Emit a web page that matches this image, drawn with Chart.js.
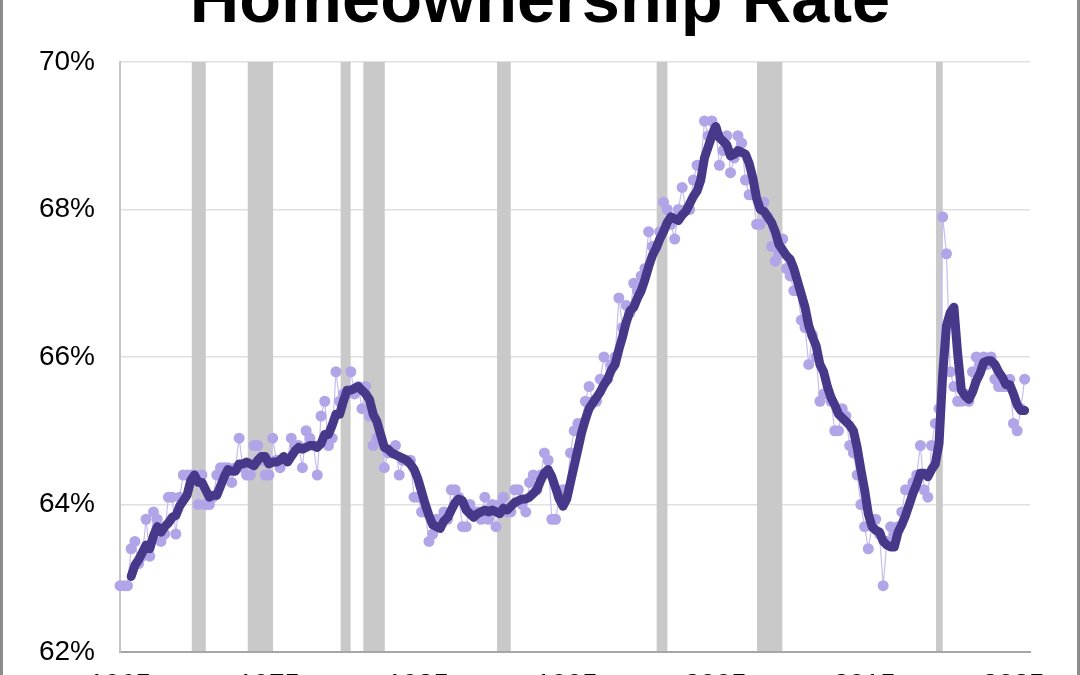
<!DOCTYPE html>
<html>
<head>
<meta charset="utf-8">
<title>Homeownership Rate</title>
<script src="https://cdn.jsdelivr.net/npm/chart.js@4.4.1/dist/chart.umd.min.js"></script>
<style>
  html, body { margin: 0; padding: 0; background: #fff; overflow: hidden; }
  body { width: 1080px; height: 675px; position: relative; }
  #title {
    position: absolute; left: 0; top: -35px; width: 1080px; margin: 0;
    text-align: center; color: #000;
    font: bold 68.5px 'Liberation Sans', Arial, sans-serif; line-height: 68px;
  }
  #wrap { position: absolute; left: 0; top: 0; width: 1080px; height: 720px; }
  #frame {
    position: absolute; left: 0; top: -20px; width: 1080px; height: 740px;
    box-sizing: border-box; border: 3px solid #8c8c8c; pointer-events: none;
  }
</style>
</head>
<body>
<div id="wrap"><canvas id="homeChart"></canvas></div>
<h1 id="title">Homeownership Rate</h1>
<div id="frame"></div>
<script>
// Quarterly homeownership rate (%), 1965 Q1 onwards, one row per year
const startYear = 1965;
const quarterlyRate = [
  62.9, 62.9, 62.9, 63.4,
  63.5, 63.2, 63.3, 63.8,
  63.3, 63.9, 63.8, 63.5,
  63.6, 64.1, 64.1, 63.6,
  64.1, 64.4, 64.4, 64.4,
  64.4, 64.0, 64.4, 64.0,
  64.0, 64.1, 64.4, 64.5,
  64.5, 64.5, 64.3, 64.5,
  64.9, 64.5, 64.4, 64.4,
  64.8, 64.8, 64.6, 64.4,
  64.4, 64.9, 64.6, 64.5,
  64.6, 64.6, 64.9, 64.8,
  64.8, 64.5, 65.0, 64.9,
  64.8, 64.4, 65.2, 65.4,
  64.8, 64.9, 65.8, 65.4,
  65.5, 65.5, 65.8, 65.5,
  65.6, 65.3, 65.6, 65.2,
  64.8, 64.9, 64.9, 64.5,
  64.7, 64.7, 64.8, 64.4,
  64.6, 64.6, 64.6, 64.1,
  64.1, 63.9, 63.9, 63.5,
  63.6, 63.8, 63.8, 63.9,
  63.8, 64.2, 64.2, 64.1,
  63.7, 63.7, 64.0, 63.9,
  63.9, 63.8, 64.1, 63.8,
  64.0, 63.7, 64.0, 64.1,
  63.9, 63.9, 64.2, 64.2,
  64.0, 63.9, 64.3, 64.4,
  64.2, 64.4, 64.7, 64.6,
  63.8, 63.8, 64.1, 64.2,
  64.2, 64.7, 65.0, 65.1,
  65.1, 65.4, 65.6, 65.4,
  65.4, 65.7, 66.0, 65.7,
  65.9, 66.0, 66.8, 66.4,
  66.7, 66.6, 67.0, 66.9,
  67.1, 67.2, 67.7, 67.5,
  67.5, 67.7, 68.1, 68.0,
  67.8, 67.6, 68.0, 68.3,
  68.0, 68.0, 68.4, 68.6,
  68.6, 69.2, 69.0, 69.2,
  69.1, 68.6, 68.8, 69.0,
  68.5, 68.7, 69.0, 68.9,
  68.4, 68.2, 68.2, 67.8,
  67.8, 68.1, 67.9, 67.5,
  67.3, 67.4, 67.6, 67.2,
  67.1, 66.9, 66.9, 66.5,
  66.4, 65.9, 66.3, 66.0,
  65.4, 65.5, 65.5, 65.4,
  65.0, 65.0, 65.3, 65.2,
  64.8, 64.7, 64.4, 64.0,
  63.7, 63.4, 63.7, 63.8,
  63.6, 62.9, 63.5, 63.7,
  63.6, 63.7, 63.9, 64.2,
  64.2, 64.3, 64.4, 64.8,
  64.2, 64.1, 64.8, 65.1,
  65.3, 67.9, 67.4, 65.8,
  65.6, 65.4, 65.4, 65.5,
  65.4, 65.8, 66.0, 65.9,
  66.0, 65.9, 66.0, 65.7,
  65.6, 65.6, 65.6, 65.7,
  65.1, 65.0, 65.3, 65.7
];

// Four-quarter average, starts at 1965 Q4
const smoothStart = 3;
const fourQuarterAvg = [
  63.025,
  63.175, 63.25, 63.35, 63.45,
  63.4, 63.575, 63.7, 63.625,
  63.7, 63.75, 63.825, 63.85,
  63.975, 64.05, 64.125, 64.325,
  64.4, 64.3, 64.3, 64.2,
  64.1, 64.125, 64.125, 64.25,
  64.375, 64.475, 64.45, 64.45,
  64.55, 64.55, 64.575, 64.55,
  64.525, 64.6, 64.65, 64.65,
  64.55, 64.575, 64.575, 64.6,
  64.65, 64.575, 64.65, 64.725,
  64.775, 64.75, 64.775, 64.8,
  64.8, 64.775, 64.825, 64.95,
  64.95, 65.075, 65.225, 65.225,
  65.4, 65.55, 65.55, 65.575,
  65.6, 65.55, 65.5, 65.425,
  65.225, 65.125, 64.95, 64.775,
  64.75, 64.7, 64.675, 64.65,
  64.625, 64.6, 64.55, 64.475,
  64.35, 64.175, 64.0, 63.85,
  63.725, 63.7, 63.675, 63.775,
  63.825, 63.925, 64.025, 64.075,
  64.05, 63.925, 63.875, 63.825,
  63.875, 63.9, 63.925, 63.9,
  63.925, 63.9, 63.875, 63.95,
  63.925, 63.975, 64.025, 64.05,
  64.075, 64.075, 64.1, 64.15,
  64.2, 64.325, 64.425, 64.475,
  64.375, 64.225, 64.075, 63.975,
  64.075, 64.3, 64.525, 64.75,
  64.975, 65.15, 65.3, 65.375,
  65.45, 65.525, 65.625, 65.7,
  65.825, 65.9, 66.1, 66.275,
  66.475, 66.625, 66.675, 66.8,
  66.9, 67.05, 67.225, 67.375,
  67.475, 67.6, 67.7, 67.825,
  67.9, 67.875, 67.85, 67.925,
  67.975, 68.075, 68.175, 68.25,
  68.4, 68.7, 68.85, 69.0,
  69.125, 68.975, 68.925, 68.875,
  68.725, 68.75, 68.8, 68.775,
  68.75, 68.625, 68.425, 68.15,
  68.0, 67.975, 67.9, 67.825,
  67.7, 67.525, 67.45, 67.375,
  67.325, 67.2, 67.025, 66.85,
  66.675, 66.425, 66.275, 66.15,
  65.9, 65.8, 65.6, 65.45,
  65.35, 65.225, 65.175, 65.125,
  65.075, 65.0, 64.775, 64.475,
  64.2, 63.875, 63.7, 63.65,
  63.625, 63.5, 63.45, 63.425,
  63.425, 63.625, 63.725, 63.85,
  64.0, 64.15, 64.275, 64.425,
  64.425, 64.375, 64.475, 64.55,
  64.825, 65.775, 66.425, 66.6,
  66.675, 66.05, 65.55, 65.475,
  65.425, 65.525, 65.675, 65.775,
  65.925, 65.95, 65.95, 65.9,
  65.8, 65.725, 65.625, 65.625,
  65.5, 65.35, 65.275, 65.275
];

const yearTicks = [1965, 1975, 1985, 1995, 2005, 2015, 2025];
const rateTicks = [62, 64, 66, 68, 70];

// Recession periods, in fractional years
const recessions = [
  [1969.82, 1970.76],
  [1973.58, 1975.28],
  [1979.82, 1980.49],
  [1981.34, 1982.78],
  [1990.32, 1991.24],
  [2001.04, 2001.76],
  [2007.78, 2009.48],
  [2019.80, 2020.25]
];

const FONT = "'Liberation Sans', Arial, sans-serif";

// grey recession bands, painted over the grid but under the lines
const recessionBands = {
  id: 'recessionBands',
  beforeDatasetsDraw(chart) {
    const { ctx, chartArea, scales: { x } } = chart;
    ctx.save();
    ctx.fillStyle = '#c9c9c9';
    recessions.forEach(([from, to]) => {
      const x0 = x.getPixelForValue(from);
      const x1 = x.getPixelForValue(to);
      ctx.fillRect(x0, chartArea.top, x1 - x0, chartArea.bottom - chartArea.top - 1);
    });
    ctx.restore();
  }
};

new Chart(document.getElementById('homeChart'), {
  type: 'line',
  data: {
    datasets: [
      {
        label: 'Four-quarter average',
        data: fourQuarterAvg.map((v, i) => ({ x: startYear + (i + smoothStart) / 4, y: v })),
        borderColor: '#473889',
        borderWidth: 9,
        borderCapStyle: 'round',
        borderJoinStyle: 'round',
        pointRadius: 0,
        order: 0
      },
      {
        label: 'Homeownership rate',
        data: quarterlyRate.map((v, i) => ({ x: startYear + i / 4, y: v })),
        borderColor: '#c6bef1',
        borderWidth: 1.2,
        pointRadius: 5.5,
        pointBackgroundColor: '#b1a5e8',
        pointBorderWidth: 0,
        clip: false,
        order: 1
      }
    ]
  },
  plugins: [recessionBands],
  options: {
    responsive: true,
    maintainAspectRatio: false,
    animation: false,
    layout: { padding: { top: 62, right: 50, bottom: 0, left: 0 } },
    plugins: {
      legend: { display: false },
      tooltip: { enabled: false }
    },
    scales: {
      x: {
        type: 'linear',
        min: 1965,
        max: 2026.11,
        afterBuildTicks: (s) => { s.ticks = yearTicks.map(v => ({ value: v })); },
        afterFit: (s) => { s.height = 68; },
        ticks: {
          callback: (v) => String(v),
          color: '#000',
          font: { family: FONT, size: 28 },
          padding: 16,
          maxRotation: 0,
          autoSkip: false
        },
        grid: { display: false, drawTicks: false },
        border: { color: '#a6a6a6', width: 2 }
      },
      y: {
        min: 62,
        max: 70,
        afterBuildTicks: (s) => { s.ticks = rateTicks.map(v => ({ value: v })); },
        afterFit: (s) => { s.width = 120; },
        ticks: {
          callback: (v) => v + '%',
          color: '#000',
          font: { family: FONT, size: 28 },
          padding: 25
        },
        grid: { color: '#e0e0e0', lineWidth: 1.5, drawTicks: false },
        border: { color: '#c4c4c4', width: 2 }
      }
    }
  }
});
</script>
</body>
</html>
